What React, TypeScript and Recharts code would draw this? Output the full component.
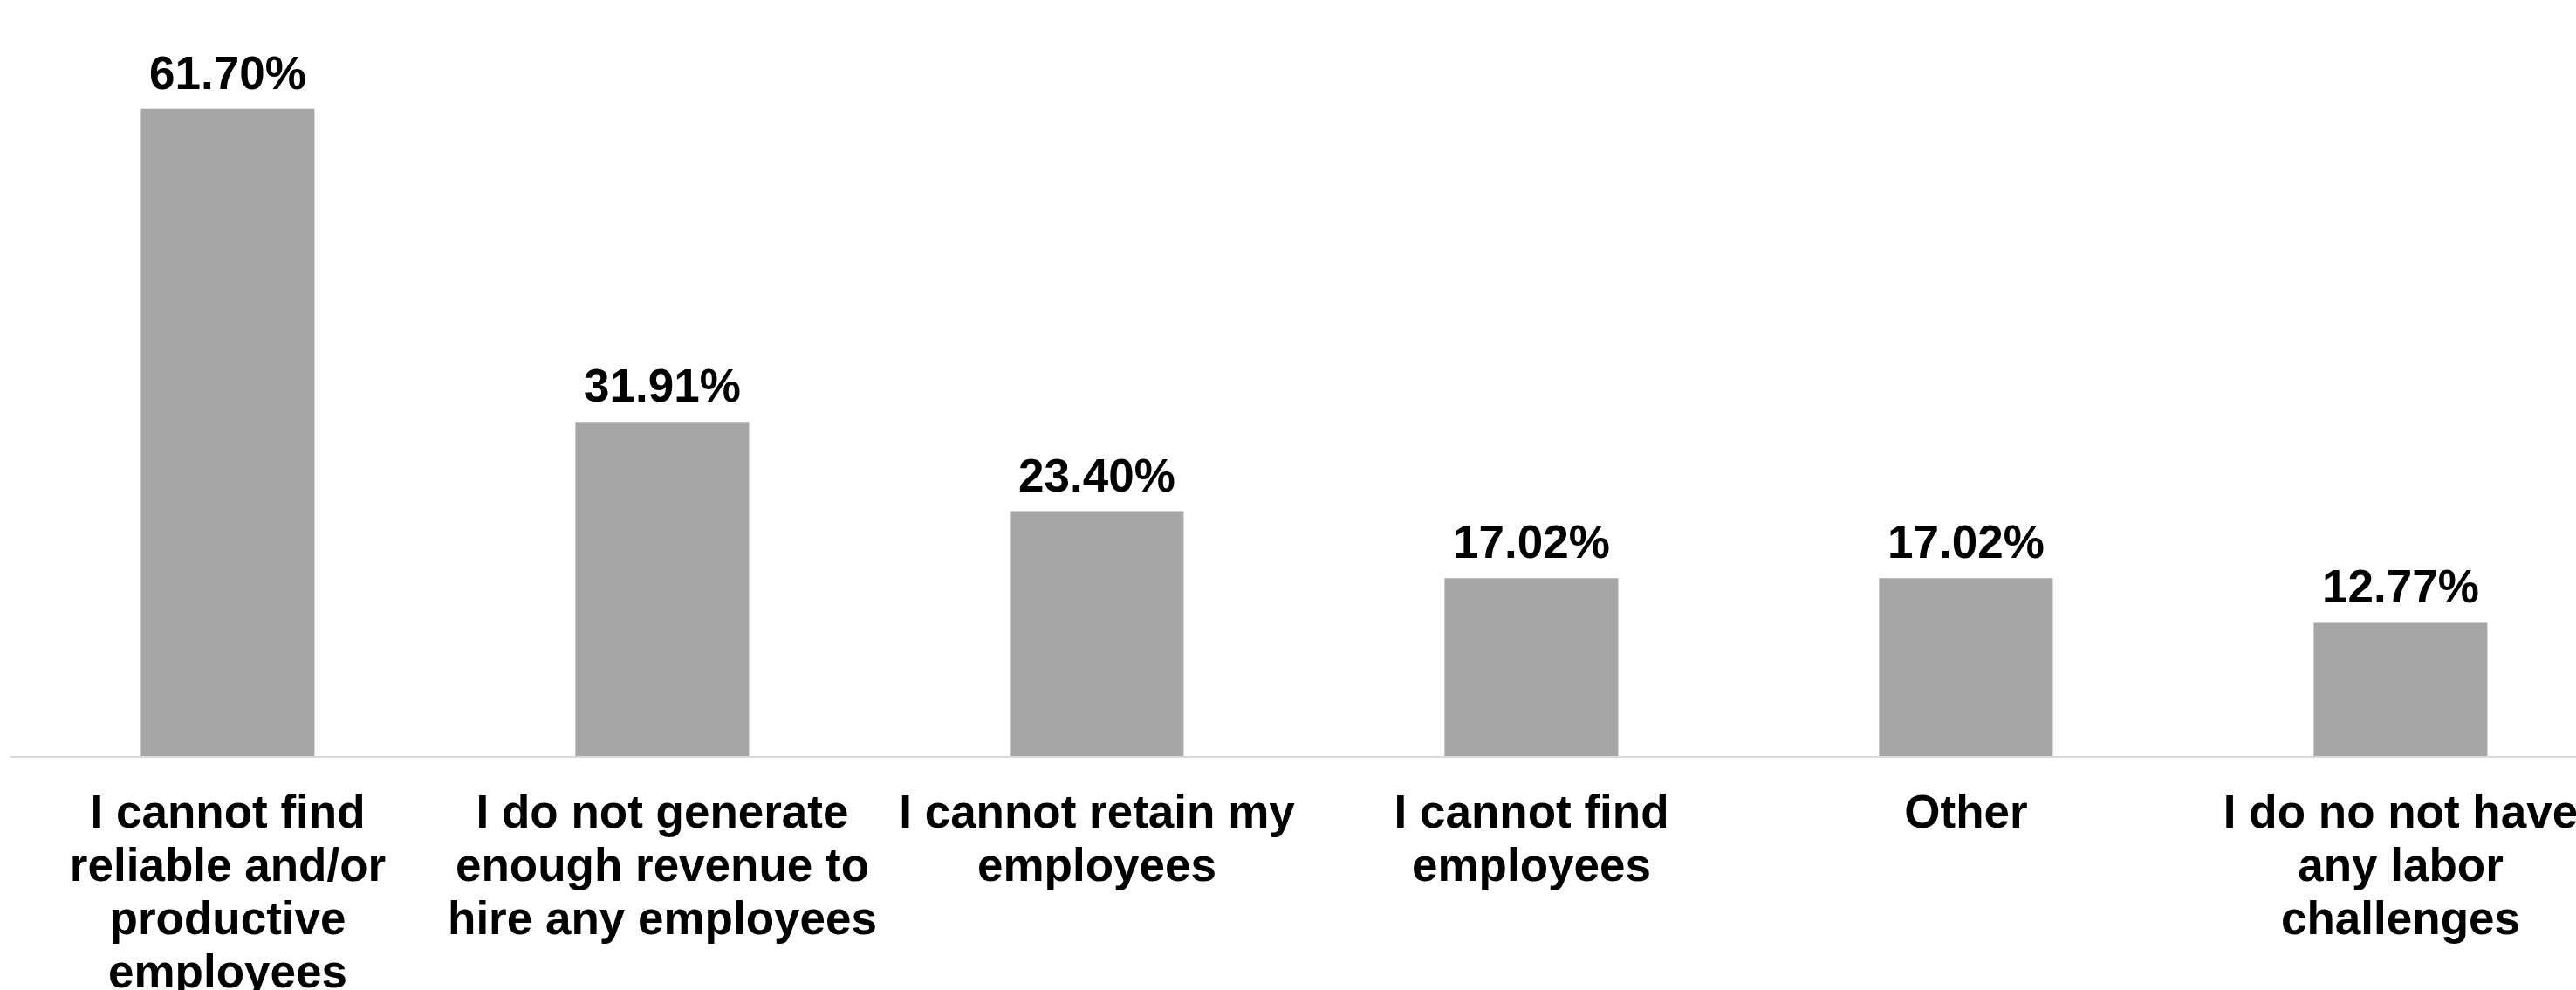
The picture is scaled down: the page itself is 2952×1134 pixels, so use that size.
import React from 'react';
import { BarChart, Bar, XAxis, YAxis, LabelList } from 'recharts';

// Labor challenges, share of respondents (%)
const categories = [
  'I cannot find\nreliable and/or\nproductive\nemployees',
  'I do not generate\nenough revenue to\nhire any employees',
  'I cannot retain my\nemployees',
  'I cannot find\nemployees',
  'Other',
  'I do no not have\nany labor\nchallenges',
];

const shares = [61.7, 31.91, 23.4, 17.02, 17.02, 12.77];

const data = categories.map((name, i) => ({ name, value: shares[i] }));

const FONT = '"Liberation Sans", Arial, sans-serif';

const CategoryTick = (props: any) => {
  const { x, y, payload } = props;
  const lines = String(payload.value).split('\n');
  return (
    <text
      x={x}
      y={y + 81}
      textAnchor="middle"
      fontFamily={FONT}
      fontWeight="bold"
      fontSize={53}
      fill="#000"
    >
      {lines.map((line, i) => (
        <tspan key={i} x={x} dy={i === 0 ? 0 : 61}>
          {line}
        </tspan>
      ))}
    </text>
  );
};

export default function App() {
  return (
    <div
      style={{
        position: 'absolute',
        left: 0,
        top: 0,
        width: 2952,
        height: 1134,
        overflow: 'hidden',
        background: '#fff',
      }}
    >
      <BarChart
        width={3004}
        height={1134}
        data={data}
        margin={{ top: 25, right: 4, bottom: 0, left: 12 }}
        barCategoryGap="30%"
      >
        <XAxis
          dataKey="name"
          height={267}
          interval={0}
          tickLine={false}
          tickSize={0}
          tickMargin={0}
          axisLine={{ stroke: '#d9d9d9', strokeWidth: 2 }}
          tick={<CategoryTick />}
        />
        <YAxis hide domain={[0, 70]} />
        <Bar dataKey="value" fill="#a6a6a6" isAnimationActive={false}>
          <LabelList
            dataKey="value"
            position="top"
            offset={23}
            formatter={(v: any) => `${Number(v).toFixed(2)}%`}
            style={{ fontFamily: FONT, fontWeight: 'bold', fontSize: 53, fill: '#000' }}
          />
        </Bar>
      </BarChart>
    </div>
  );
}
